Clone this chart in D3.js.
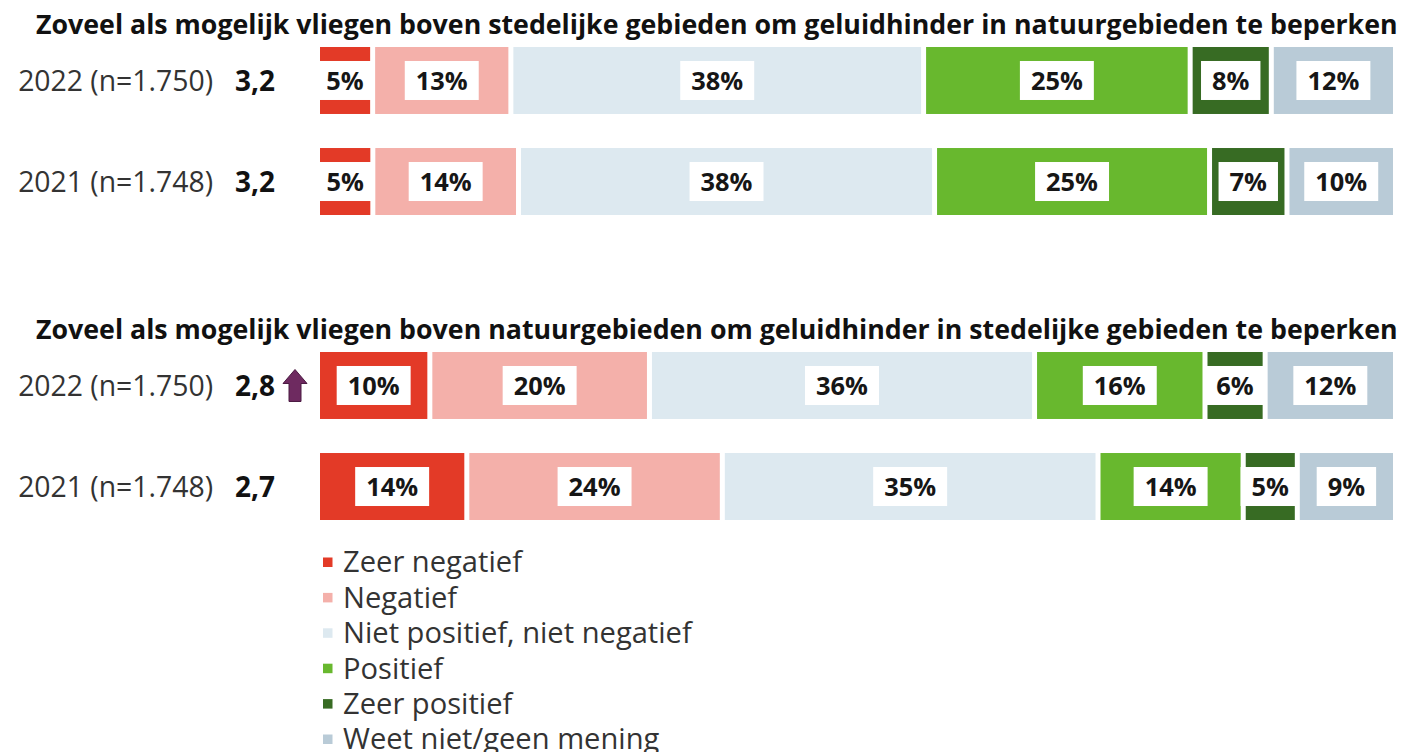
<!DOCTYPE html>
<html>
<head>
<meta charset="utf-8">
<script src="https://cdn.jsdelivr.net/npm/d3@7"></script>
<style>
  body { margin: 0; background: #fff; }
  text { font-family: "Open Sans", "Noto Sans", sans-serif; }
</style>
</head>
<body>
<div id="chart"></div>
<script>
// answer categories and colours
var categories = ["Zeer negatief", "Negatief", "Niet positief, niet negatief", "Positief", "Zeer positief", "Weet niet/geen mening"];
var colors = ["#e33a27", "#f4b0aa", "#dde9f0", "#68b82e", "#376b23", "#b9cbd7"];

var titles = [
  "Zoveel als mogelijk vliegen boven stedelijke gebieden om geluidhinder in natuurgebieden te beperken",
  "Zoveel als mogelijk vliegen boven natuurgebieden om geluidhinder in stedelijke gebieden te beperken"
];
var rowLabels = ["2022 (n=1.750)", "2021 (n=1.748)"];

// estimated shares per row (percent)
var stedelijk2022 = [5.13, 12.86, 38.4, 24.8, 7.55, 11.09];
var stedelijk2021 = [5.13, 13.51, 38.58, 25.5, 7.18, 9.6];
var natuur2022 = [10.44, 20.41, 35.79, 15.84, 5.59, 11.65];
var natuur2021 = [13.89, 23.77, 34.95, 13.51, 5.03, 8.67];

// printed labels
var stedelijk2022Labels = ["5%", "13%", "38%", "25%", "8%", "12%"];
var stedelijk2021Labels = ["5%", "14%", "38%", "25%", "7%", "10%"];
var natuur2022Labels = ["10%", "20%", "36%", "16%", "6%", "12%"];
var natuur2021Labels = ["14%", "24%", "35%", "14%", "5%", "9%"];

// mean scores and significance arrow
var scores = [["3,2", "3,2"], ["2,8", "2,7"]];
var arrows = [[false, false], [true, false]];

var charts = [
  { title: titles[0], rows: [stedelijk2022, stedelijk2021], labels: [stedelijk2022Labels, stedelijk2021Labels] },
  { title: titles[1], rows: [natuur2022, natuur2021], labels: [natuur2022Labels, natuur2021Labels] }
];

var W = 1407, H = 752;
var svg = d3.select("#chart").append("svg")
  .attr("width", W)
  .attr("height", H);

// fit the font size of a text node to a wanted width
function fitSize(sel, base, target) {
  sel.style("font-size", base + "px");
  var w = sel.node().getComputedTextLength();
  var s = base * target / w;
  sel.style("font-size", s + "px");
  return s;
}

// measure font sizes once
var probe = svg.append("text").attr("font-weight", "bold").text(titles[0]);
var titleSize = fitSize(probe, 22, 1362);
probe.remove();
probe = svg.append("text").text(rowLabels[0]);
var rowSize = fitSize(probe, 26, 195);
probe.remove();
probe = svg.append("text").attr("font-weight", "bold").text("10%");
var pctSize = fitSize(probe, 24, 52);
probe.remove();
probe = svg.append("text").text(categories[2]);
var legSize = fitSize(probe, 26, 349);
probe.remove();
probe = svg.append("text").attr("font-weight", "bold").text("3,2");
var scoreSize = fitSize(probe, 26, 40);
probe.remove();

var gap = 5, boxH = 39, pad = 11;

charts.forEach(function (c, ci) {
  var top = 47 + ci * 305;
  var g = svg.append("g");

  g.append("text")
    .attr("x", 36)
    .attr("y", top - 13)
    .attr("font-weight", "bold")
    .attr("fill", "#111")
    .style("font-size", titleSize + "px")
    .text(c.title);

  var y = d3.scaleBand()
    .domain(rowLabels)
    .range([top, top + 168])
    .paddingInner(0.337)
    .paddingOuter(0);

  c.rows.forEach(function (vals, ri) {
    var rowName = rowLabels[ri];
    var cy = y(rowName) + y.bandwidth() / 2;
    var x = d3.scaleLinear()
      .domain([0, d3.sum(vals)])
      .range([320, 1393]);

    var cum = d3.cumsum(vals);
    var segs = vals.map(function (v, i) {
      var x0 = x(cum[i] - v);
      var x1 = i === vals.length - 1 ? x(cum[i]) : x(cum[i]) - gap;
      return { x0: x0, x1: x1, color: colors[i], label: c.labels[ri][i] };
    });

    // row label and score
    g.append("text")
      .attr("x", 213)
      .attr("y", cy)
      .attr("dy", "0.36em")
      .attr("text-anchor", "end")
      .attr("fill", "#333")
      .style("font-size", rowSize + "px")
      .text(rowName);

    g.append("text")
      .attr("x", 235)
      .attr("y", cy)
      .attr("dy", "0.36em")
      .attr("font-weight", "bold")
      .attr("fill", "#111")
      .style("font-size", scoreSize + "px")
      .text(scores[ci][ri]);

    if (arrows[ci][ri]) {
      var ax = 295, ay = cy - 16;
      g.append("path")
        .attr("d", "M" + ax + "," + ay +
          "L" + (ax + 12) + "," + (ay + 14) +
          "L" + (ax + 6) + "," + (ay + 14) +
          "L" + (ax + 6) + "," + (ay + 32) +
          "L" + (ax - 6) + "," + (ay + 32) +
          "L" + (ax - 6) + "," + (ay + 14) +
          "L" + (ax - 12) + "," + (ay + 14) + "Z")
        .attr("fill", "#6e2a60")
        .attr("stroke", "#4b1a42")
        .attr("stroke-width", 1);
    }

    var sg = g.selectAll(".seg" + ri)
      .data(segs)
      .enter()
      .append("g");

    sg.append("rect")
      .attr("x", function (d) { return d.x0; })
      .attr("y", y(rowName))
      .attr("width", function (d) { return d.x1 - d.x0; })
      .attr("height", y.bandwidth())
      .attr("fill", function (d) { return d.color; });

    var labels = sg.append("text")
      .attr("x", function (d) { return (d.x0 + d.x1) / 2; })
      .attr("y", cy)
      .attr("dy", "0.36em")
      .attr("text-anchor", "middle")
      .attr("font-weight", "bold")
      .attr("fill", "#161616")
      .style("font-size", pctSize + "px")
      .text(function (d) { return d.label; });

    labels.each(function (d) {
      var w = this.getComputedTextLength() + 2 * pad;
      d3.select(this.parentNode).insert("rect", "text")
        .attr("x", (d.x0 + d.x1) / 2 - w / 2)
        .attr("y", cy - boxH / 2)
        .attr("width", w)
        .attr("height", boxH)
        .attr("fill", "#fff");
    });
  });
});

// legend
var legend = svg.append("g");
var ly = d3.scalePoint()
  .domain(categories)
  .range([562, 739]);

categories.forEach(function (cat, i) {
  legend.append("rect")
    .attr("x", 323)
    .attr("y", ly(cat) - 4.5)
    .attr("width", 9.5)
    .attr("height", 9.5)
    .attr("fill", colors[i]);
  legend.append("text")
    .attr("x", 343)
    .attr("y", ly(cat))
    .attr("dy", "0.36em")
    .attr("fill", "#333")
    .style("font-size", legSize + "px")
    .text(cat);
});
</script>
</body>
</html>
